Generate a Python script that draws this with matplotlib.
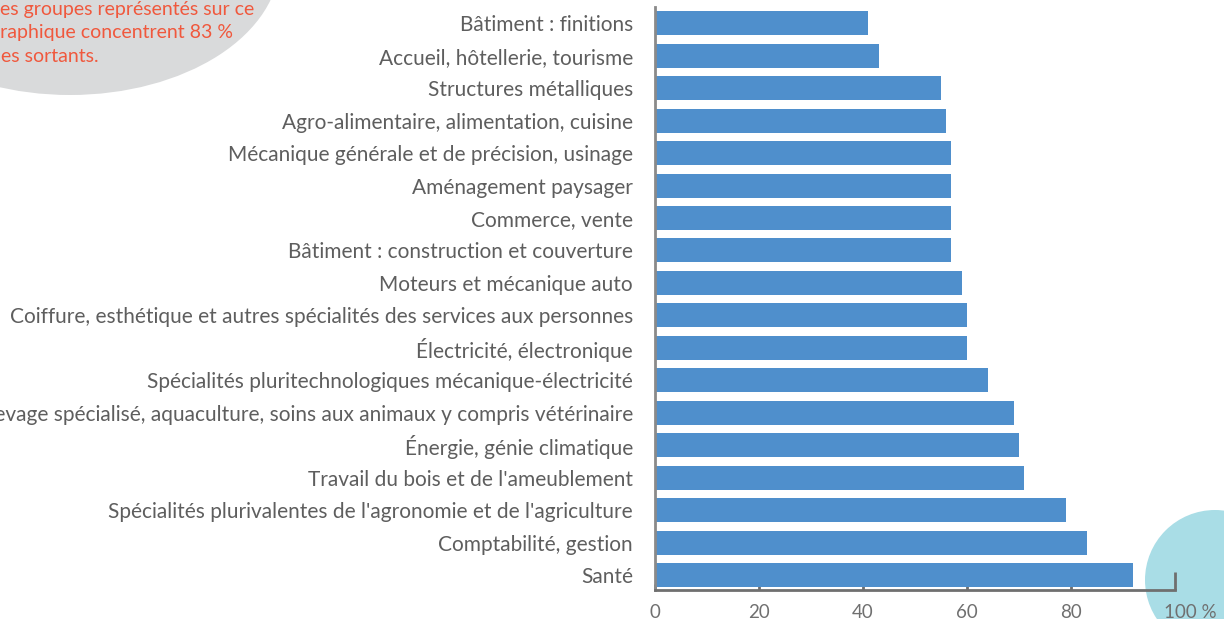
import matplotlib.pyplot as plt
import matplotlib.transforms as mtransforms
from matplotlib.patches import Ellipse, Circle

# taux d'insertion par groupe de spécialités (%)
categories = [
    "Bâtiment : finitions",
    "Accueil, hôtellerie, tourisme",
    "Structures métalliques",
    "Agro-alimentaire, alimentation, cuisine",
    "Mécanique générale et de précision, usinage",
    "Aménagement paysager",
    "Commerce, vente",
    "Bâtiment : construction et couverture",
    "Moteurs et mécanique auto",
    "Coiffure, esthétique et autres spécialités des services aux personnes",
    "Électricité, électronique",
    "Spécialités pluritechnologiques mécanique-électricité",
    "Productions animales, élevage spécialisé, aquaculture, soins aux animaux y compris vétérinaire",
    "Énergie, génie climatique",
    "Travail du bois et de l'ameublement",
    "Spécialités plurivalentes de l'agronomie et de l'agriculture",
    "Comptabilité, gestion",
    "Santé",
]
values = [41, 43, 55, 56, 57, 57, 57, 57, 59, 60, 60, 64, 69, 70, 71, 79, 83, 92]
xticks = [0, 20, 40, 60, 80, 100]
xticklabels = ["0", "20", "40", "60", "80", "100 %"]

note = "Les groupes représentés sur ce\ngraphique concentrent 83 %\ndes sortants."

plt.rcParams['font.family'] = ['Lato', 'DejaVu Sans']

W, H = 1224, 619
fig = plt.figure(figsize=(W / 100, H / 100), dpi=100)

# decorative shapes in pixel coordinates, kept behind the axes
px = mtransforms.Affine2D().scale(1 / W, -1 / H).translate(0, 1) + fig.transFigure
fig.patches.append(Ellipse((70, -40), 420, 270, transform=px,
                           facecolor='#d9dadb', edgecolor='none', zorder=-1))
fig.patches.append(Circle((1215, 580), 70, transform=px,
                          facecolor='#a9dde6', edgecolor='none', zorder=-1))
fig.text(-10 / W, 1 - 1 / H, note, ha='left', va='top', fontsize=14,
         color='#f0583d', linespacing=1.45)

ax = fig.add_axes([655 / W, 1 - 590 / H, 520 / W, 583 / H])
ax.patch.set_alpha(0)

ypos = list(range(len(categories)))
ax.barh(ypos, values, height=0.74, color='#4f8fcc', zorder=2)

ax.set_xlim(0, 100)
ax.set_ylim(17.46, -0.5)
ax.set_yticks(ypos)
ax.set_yticklabels(categories, fontsize=15, color='#5e5e5e')
ax.tick_params(axis='y', length=0, pad=16)

ax.set_xticks(xticks)
ax.set_xticklabels(xticklabels, fontsize=13.5, color='#707070')
ax.tick_params(axis='x', direction='in', length=4, width=2, color='#6f6f6f', pad=10)
last = ax.xaxis.get_major_ticks()[-1]
last.tick1line.set_markersize(13)
last.label1.set_transform(last.label1.get_transform()
                          + mtransforms.ScaledTranslation(0.15, 0, fig.dpi_scale_trans))

for s in ['top', 'right']:
    ax.spines[s].set_visible(False)
ax.spines['bottom'].set_color('#6f6f6f')
ax.spines['bottom'].set_linewidth(2)
ax.spines['left'].set_color('#8a8a8a')
ax.spines['left'].set_linewidth(2)

fig.savefig('out.png', dpi=100)
